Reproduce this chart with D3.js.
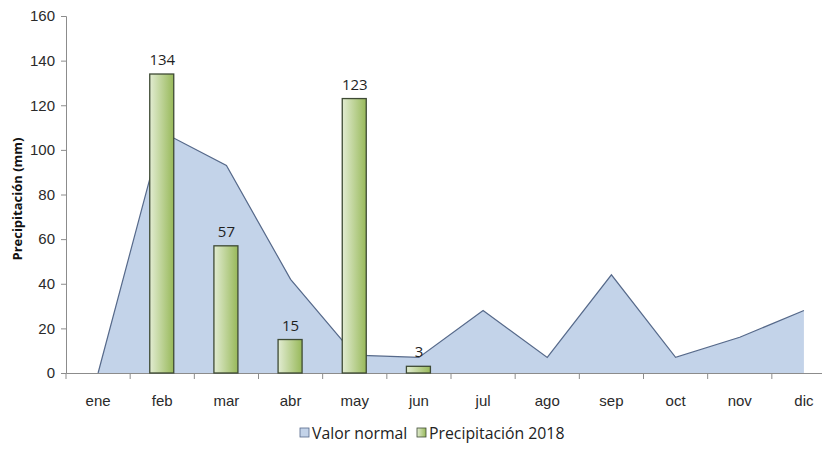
<!DOCTYPE html>
<html>
<head>
<meta charset="utf-8">
<script src="https://cdn.jsdelivr.net/npm/d3@7"></script>
<style>
  body { margin: 0; background: #fff; }
  svg { display: block; font-family: 'Open Sans', sans-serif; }
</style>
</head>
<body>
<div id="chart"></div>
<script>
(function(){
  // Monthly precipitation: normal values (area) vs 2018 (bars).
  const months = ['ene', 'feb', 'mar', 'abr', 'may', 'jun', 'jul', 'ago', 'sep', 'oct', 'nov', 'dic'];
  const normalValues = [0, 108, 93, 42, 8, 7, 28, 7, 44, 7, 16, 28];
  const rainMonths = ['feb', 'mar', 'abr', 'may', 'jun'];
  const rainValues = [134, 57, 15, 123, 3];
  const yTicks = [0, 20, 40, 60, 80, 100, 120, 140, 160];
  const legendLabels = ['Valor normal', 'Precipitación 2018'];

  const width = 822, height = 449;
  const svg = d3.select('#chart').append('svg')
    .attr('width', width).attr('height', height);

  const defs = svg.append('defs');
  const grad = defs.append('linearGradient').attr('id', 'barGrad')
    .attr('x1', '0%').attr('x2', '100%').attr('y1', '0%').attr('y2', '0%');
  grad.append('stop').attr('offset', '0%').attr('stop-color', '#e2ecd2');
  grad.append('stop').attr('offset', '100%').attr('stop-color', '#98b95a');

  const x = d3.scaleBand().domain(months).range([66, 836]);
  const y = d3.scaleLinear().domain([0, 160]).range([373, 16]);

  // Normal values as a filled area.
  const area = d3.area()
    .x(d => x(d.m) + x.bandwidth() / 2)
    .y0(y(0))
    .y1(d => y(d.v));
  const line = d3.line()
    .x(d => x(d.m) + x.bandwidth() / 2)
    .y(d => y(d.v));
  const normal = months.map((m, i) => ({m, v: normalValues[i]}));

  svg.append('path').datum(normal)
    .attr('d', area)
    .attr('fill', '#c3d3e9');
  svg.append('path').datum(normal)
    .attr('d', line)
    .attr('fill', 'none')
    .attr('stroke', '#56698a')
    .attr('stroke-width', 1.2);

  // Axes
  const yAxis = svg.append('g')
    .attr('transform', 'translate(66,0)')
    .call(d3.axisLeft(y).tickValues(yTicks).tickSize(5).tickPadding(6));
  yAxis.select('.domain').attr('stroke', '#8c8c8c');
  yAxis.selectAll('.tick line').attr('stroke', '#8c8c8c');
  yAxis.selectAll('.tick text').attr('font-size', 15).attr('fill', '#2a2a2a');

  const xAxis = svg.append('g')
    .attr('transform', `translate(0,${y(0)})`)
    .call(d3.axisBottom(x).tickSize(0).tickPadding(22));
  xAxis.select('.domain').attr('stroke', '#8c8c8c');
  xAxis.selectAll('.tick text').attr('font-size', 15).attr('fill', '#2a2a2a');
  // Tick marks on band boundaries
  xAxis.selectAll('line.bound')
    .data(months)
    .join('line')
    .attr('class', 'bound')
    .attr('x1', d => x(d)).attr('x2', d => x(d))
    .attr('y1', 0).attr('y2', 6)
    .attr('stroke', '#8c8c8c');

  // 2018 bars
  const barW = 24;
  const rain = rainMonths.map((m, i) => ({m, v: rainValues[i]}));
  svg.append('g').selectAll('rect')
    .data(rain)
    .join('rect')
    .attr('x', d => x(d.m) + x.bandwidth() / 2 - barW / 2 - 0.5)
    .attr('y', d => y(d.v))
    .attr('width', barW)
    .attr('height', d => y(0) - y(d.v))
    .attr('fill', 'url(#barGrad)')
    .attr('stroke', '#3e4a34')
    .attr('stroke-width', 1.3);

  svg.append('g').selectAll('text')
    .data(rain)
    .join('text')
    .attr('x', d => x(d.m) + x.bandwidth() / 2)
    .attr('y', d => y(d.v) - 9)
    .attr('text-anchor', 'middle')
    .attr('font-size', 15)
    .attr('fill', '#1f1f1f')
    .text(d => d.v);

  // Y axis title
  svg.append('text')
    .attr('transform', `translate(22,199) rotate(-90)`)
    .attr('text-anchor', 'middle')
    .attr('font-size', 13)
    .attr('font-weight', 'bold')
    .attr('fill', '#111')
    .text('Precipitación (mm)');

  // Legend
  const legend = svg.append('g').attr('transform', 'translate(300,439)');
  const swatches = [{fill: '#c3d3e9', stroke: '#56698a', x: 0}, {fill: 'url(#barGrad)', stroke: '#3e4a34', x: 117}];
  swatches.forEach((s, i) => {
    legend.append('rect')
      .attr('x', s.x).attr('y', -11)
      .attr('width', 9).attr('height', 9)
      .attr('fill', s.fill).attr('stroke', s.stroke).attr('stroke-width', 0.8);
    legend.append('text')
      .attr('x', s.x + 12).attr('y', 0)
      .attr('font-size', 15.8)
      .attr('fill', '#222')
      .text(legendLabels[i]);
  });
})();
</script>
</body>
</html>
